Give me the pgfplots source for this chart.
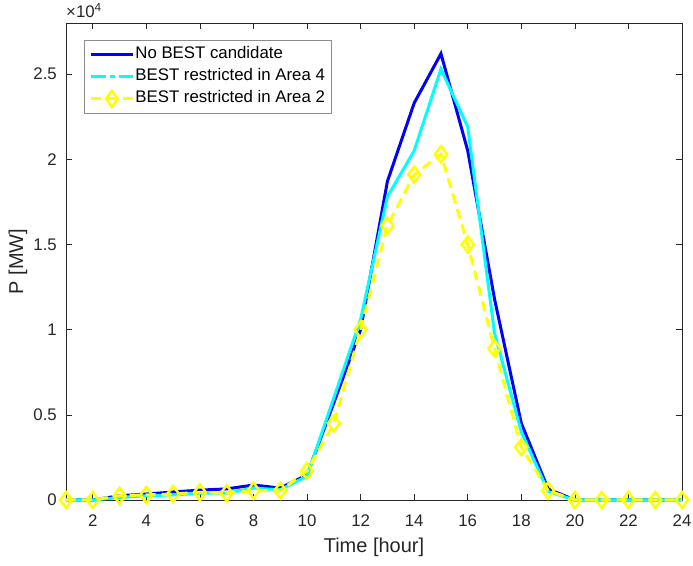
\documentclass[border=0pt]{standalone}
\usepackage{fontspec}
\setmainfont{Liberation Sans}
\usepackage{pgfplots}
\pgfplotsset{compat=1.18}
\definecolor{axgray}{RGB}{38,38,38}
\definecolor{leggray}{RGB}{140,140,140}
\definecolor{myblue}{rgb}{0,0,1}
\definecolor{mycyan}{rgb}{0,1,1}
\definecolor{myyellow}{rgb}{1,1,0}
\pgfplotstableread{
h  nobest  area4  area2
1  0      0      0
2  0      0      0
3  250    150    250
4  350    250    300
5  470    300    350
6  580    400    450
7  650    400    400
8  880    700    550
9  700    600    550
10 1470   1400   1700
11 5700   6000   4500
12 10000  10600  10000
13 18700  17800  16100
14 23300  20500  19100
15 26200  25300  20300
16 20500  21900  15000
17 11800  9800   8900
18 4500   4000   3100
19 650    500    550
20 0      0      0
21 0      0      0
22 0      0      0
23 0      0      0
24 0      0      0
}\datatable
\begin{document}
\begin{tikzpicture}[font=\fontsize{16.8}{19}\selectfont]
\begin{axis}[
  scale only axis, width=616pt, height=477pt,
  xmin=1, xmax=24, ymin=0, ymax=28000,
  xtick={2,4,...,24},
  xticklabels={2,4,6,8,10,12,14,16,18,20,22,24},
  ytick={0,5000,10000,15000,20000,25000},
  yticklabels={0,0.5,1,1.5,2,2.5},
  scaled y ticks=false,
  tick align=inside, major tick length=6pt,
  tick style={axgray, line width=0.6pt},
  axis line style={axgray, line width=0.6pt},
  ticklabel style={text=axgray, font=\fontsize{16.8}{19}\selectfont},
  xticklabel style={anchor=north, inner sep=0pt, yshift=-15pt},
  yticklabel style={anchor=east, inner sep=0pt, xshift=-9pt},
  xlabel={Time [hour]}, ylabel={P [MW]},
  xlabel style={at={(rel axis cs:0.5,0)}, anchor=base, yshift=-53pt, text=axgray, font=\fontsize{20}{22}\selectfont},
  ylabel style={at={(axis description cs:-0.0698,0.5)}, anchor=base, text=axgray, font=\fontsize{20}{22}\selectfont},
  legend style={at={(rel axis cs:0.0292,0.9644)}, anchor=north west, draw=leggray, line width=0.8pt, fill=white,
    font=\fontsize{16.8}{19}\selectfont, row sep=4pt, inner xsep=5pt, inner ysep=5.5pt,
    nodes={inner sep=1pt, text height=12pt, text depth=4pt}},
  legend cell align=left,
  clip=false,
]
\addplot[myblue, line width=3pt,
  legend image code/.code={\draw[myblue, line width=3pt] (0pt,0pt) -- (42pt,0pt);}]
  table[x=h, y=nobest] {\datatable};
\addlegendentry{No BEST candidate}
\addplot[mycyan, line width=3pt,
  legend image code/.code={\draw[mycyan, line width=3pt, dash pattern=on 15pt off 4.5pt on 4.5pt off 4.5pt] (0pt,0pt) -- (42pt,0pt);}]
  table[x=h, y=area4] {\datatable};
\addlegendentry{BEST restricted in Area 4}
\addplot[myyellow, line width=3pt, dash pattern=on 10pt off 6pt,
  mark=diamond, mark size=8pt, mark options={solid, fill=white, line width=2.5pt},
  legend image code/.code={\draw[myyellow, line width=3pt] (0pt,0pt) -- (42pt,0pt);
     \draw[myyellow, line width=2.5pt, fill=white, mark=diamond, mark size=8pt] plot coordinates {(21pt,0pt)};}]
  table[x=h, y=area2] {\datatable};
\addlegendentry{BEST restricted in Area 2}
\node[anchor=base west, inner sep=0pt, text=axgray] at (rel axis cs:0,1) [yshift=5pt] {×10\textsuperscript{4}};
\end{axis}
\pgfresetboundingbox
\useasboundingbox ([shift={(-66pt,-66pt)}]current axis.south west) rectangle ([shift={(11pt,23pt)}]current axis.north east);
\end{tikzpicture}
\end{document}
